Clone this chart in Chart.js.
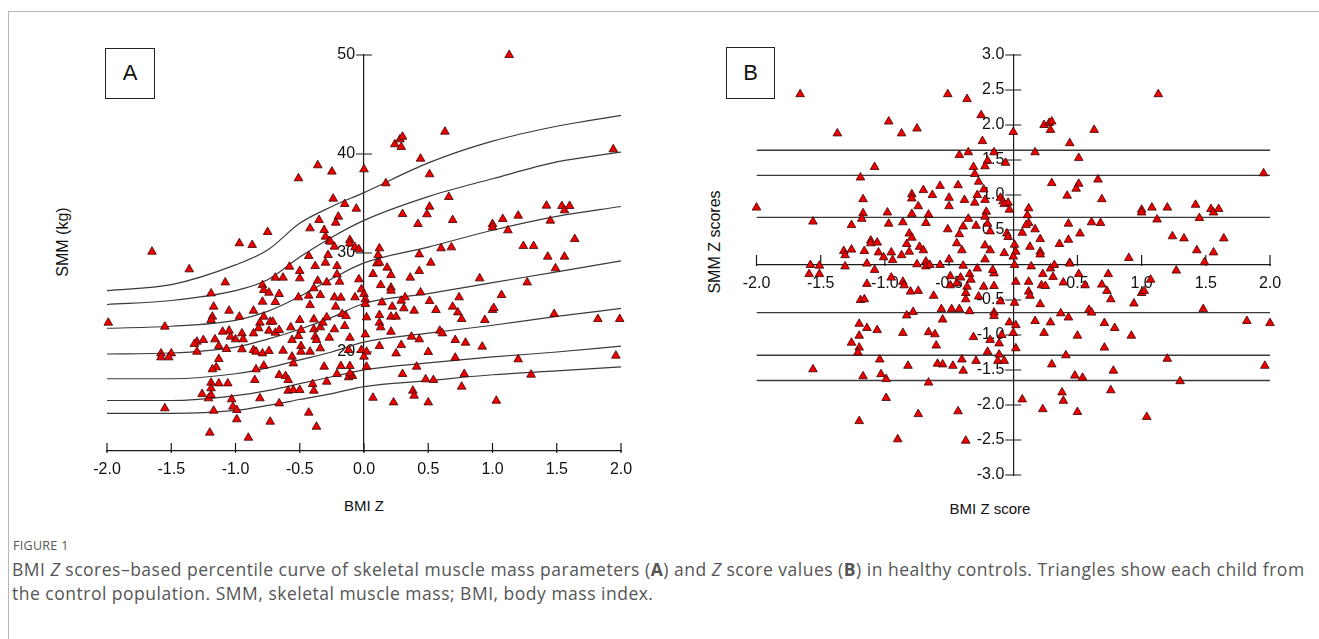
<!DOCTYPE html>
<html>
<head>
<meta charset="utf-8">
<script src="https://cdn.jsdelivr.net/npm/chart.js@4.4.1/dist/chart.umd.min.js"></script>
<style>
  html, body { margin: 0; padding: 0; background: #fff; }
  body { width: 1319px; height: 639px; position: relative; overflow: hidden; font-family: "Liberation Sans", Arial, sans-serif; }
  .frame { position: absolute; left: 8px; top: 11px; width: 1400px; height: 700px;
           border-top: 1.5px solid #b8b8b8; border-left: 1.5px solid #b8b8b8; }
  canvas { position: absolute; left: 0; top: 0; z-index: 2; }
  .panel { position: absolute; border: 1.5px solid #222; box-sizing: border-box;
           font-size: 22px; color: #111; text-align: center; }
  .axt { position: absolute; font-size: 15px; color: #111; white-space: nowrap; }
  .rot { transform: translate(-50%, -50%) rotate(-90deg); font-size: 16px; }
  .hor { transform: translate(-50%, -50%); }
  .fig { position: absolute; left: 13px; top: 537px; font-family: "Open Sans", sans-serif;
         font-size: 12.5px; color: #555; letter-spacing: 0.3px; }
  .cap { position: absolute; left: 12px; top: 557px; font-family: "Open Sans", sans-serif;
         font-size: 17.5px; letter-spacing: 0.5px; line-height: 24px; color: #555; white-space: nowrap; }
</style>
</head>
<body>
<div class="frame"></div>
<div class="panel" style="left:105px;top:48px;width:50px;height:51px;line-height:48px;">A</div>
<div class="panel" style="left:726px;top:47px;width:49px;height:52px;line-height:49px;">B</div>
<div class="axt rot" style="left:63px;top:242px;">SMM (kg)</div>
<div class="axt hor" style="left:364px;top:505px;">BMI Z</div>
<div class="axt rot" style="left:715px;top:242px;">SMM Z scores</div>
<div class="axt hor" style="left:990px;top:508px;">BMI Z score</div>
<div class="fig">FIGURE 1</div>
<div class="cap">BMI <i>Z</i> scores–based percentile curve of skeletal muscle mass parameters (<b>A</b>) and <i>Z</i> score values (<b>B</b>) in healthy controls. Triangles show each child from<br>the control population. SMM, skeletal muscle mass; BMI, body mass index.</div>
<canvas id="chartA" width="1319" height="639"></canvas>
<canvas id="chartB" width="1319" height="639"></canvas>
<script>
'use strict';

/* ── Panel A data: BMI Z vs SMM (kg) ───────────────────────── */
const aXTicks = [-2, -1.5, -1, -0.5, 0, 0.5, 1, 1.5, 2];
const aYTicks = [20, 30, 40, 50];

// percentile curves, read at these BMI Z positions
const curveZ = [-2, -1.5, -1, -0.75, -0.5, -0.25, 0, 0.5, 1, 1.5, 2];
const p97 = [26.2, 26.8, 28.8, 30.3, 33.0, 34.7, 36.1, 39.1, 41.3, 42.8, 43.9];
const p90 = [24.8, 25.2, 26.2, 27.3, 29.6, 31.6, 33.3, 35.7, 37.5, 39.2, 40.2];
const p75 = [22.4, 22.6, 23.2, 24.1, 25.6, 27.4, 29.0, 30.6, 32.3, 33.7, 34.7];
const p50 = [19.8, 19.9, 20.5, 21.3, 22.3, 23.5, 24.9, 25.9, 27.0, 28.1, 29.2];
const p25 = [17.3, 17.3, 17.8, 18.4, 19.2, 20.0, 21.0, 21.9, 22.7, 23.6, 24.4];
const p10 = [15.1, 15.1, 15.6, 16.1, 16.8, 17.5, 18.2, 18.9, 19.5, 20.0, 20.6];
const p3  = [13.8, 13.8, 14.1, 14.6, 15.2, 15.8, 16.5, 17.1, 17.7, 18.1, 18.5];

// each child: [BMI Z, SMM kg]
const aPoints = [
  [-0.51,37.54],[-0.36,38.86],[-0.25,38.22],[0.00,38.45],[-0.24,35.49],[-0.15,34.95],[-0.06,34.48],
  [-0.20,33.67],[-0.22,33.06],[-0.35,33.33],[-0.42,32.49],[-0.31,32.32],[-0.30,31.65],[-0.27,31.21],
  [-0.11,31.31],[-0.75,32.12],[-0.97,30.98],[-0.87,30.81],
  [1.13,50.0],[0.24,40.98],[0.28,41.48],[0.30,41.75],[0.29,40.71],[0.63,42.26],[0.44,39.53],[0.51,37.95],
  [0.17,37.04],[0.66,35.66],[0.51,34.68],[0.49,33.91],[0.30,33.94],[0.42,32.93],[0.69,33.33],[1.00,32.93],
  [1.00,32.59],[1.08,33.43],[1.20,33.77],[1.12,32.29],[1.42,34.78],[1.54,34.75],[1.56,34.31],[1.60,34.75],
  [1.45,33.27],[1.64,31.41],[1.94,40.47],
  [0.12,30.47],[0.60,30.47],[0.68,30.57],[1.24,30.70],[1.32,30.70],[1.43,29.63],[1.56,29.63],[1.49,28.45],
  [1.27,27.03],[0.90,27.44],[1.07,25.75],[1.48,23.84],[1.82,23.33],[1.99,23.33],[1.96,19.63],[1.20,19.26],
  [1.30,17.71],[1.03,15.08],[0.11,29.79],[0.10,28.95],[0.12,29.02],[0.18,28.52],[0.07,27.88],[0.21,27.77],
  [0.43,29.86],[0.52,29.02],[0.43,28.18],[0.36,27.51],[0.13,26.76],[0.21,26.50],[0.21,26.19],[0.44,26.02],
  [-0.02,26.33],[0.00,25.86],[0.01,25.32],[0.01,24.85],[0.14,25.01],[0.22,24.58],[0.32,25.52],[0.29,25.18],
  [0.31,24.41],[0.39,24.17],[0.51,25.15],[0.56,24.24],[0.69,24.58],[0.74,25.52],[0.73,24.00],[0.76,23.33],
  [1.00,24.24],[1.01,24.44],[0.94,23.23],[0.02,23.50],[0.12,23.73],[0.21,23.57],[0.25,23.57],[0.12,22.96],
  [0.13,22.49],[0.01,21.78],[0.21,22.05],[0.37,21.55],[0.43,21.28],[0.59,22.15],[0.61,21.88],[0.71,21.21],
  [0.79,20.94],[0.92,20.54],[0.12,20.60],[0.29,20.70],[0.25,19.86],[0.50,20.00],[0.71,19.43],[-0.02,20.20],
  [0.02,20.03],[0.00,19.53],[0.02,18.52],[0.41,18.52],[0.30,17.78],[0.48,17.24],[0.54,17.17],[0.78,17.78],
  [0.76,16.50],[0.38,16.09],[0.39,15.59],[0.07,15.38],[0.23,14.91],[0.50,14.91],
  [-1.65,30.13],[-1.36,28.35],[-1.08,27.03],[-1.19,25.92],[-1.17,24.58],[-1.18,23.57],[-1.19,23.23],
  [-1.99,22.96],[-1.55,22.56],[-1.05,24.17],[-0.97,23.57],[-0.86,24.17],[-0.79,26.76],[-0.78,26.26],
  [-0.74,25.99],[-0.79,25.08],[-0.69,25.05],[-0.66,25.86],[-0.69,27.51],[-0.63,27.51],[-0.58,28.62],
  [-0.50,28.18],[-0.50,27.44],[-0.43,29.69],[-0.38,28.68],[-0.30,29.02],[-0.28,29.79],[-0.26,31.14],
  [-0.23,30.64],[-0.11,30.97],[-0.07,30.57],[-0.04,30.37],[-0.21,28.68],[-0.21,27.84],[-0.19,27.10],
  [-0.36,27.20],[-0.29,27.03],[-0.39,26.43],[-0.43,25.69],[-0.51,25.52],[-0.42,24.74],[-0.34,25.75],
  [-0.23,25.52],[-0.18,25.49],[-0.07,25.52],[-0.04,27.34],[-0.22,24.58],[-0.17,23.84],[-0.14,23.63],
  [-0.29,23.50],[-0.39,23.30],[-0.50,23.23],[-0.57,22.49],[-0.73,23.06],[-0.71,23.06],[-0.78,23.57],
  [-0.81,22.96],[-0.82,22.39],[-0.74,22.15],[-0.69,21.95],[-0.66,22.22],[-0.86,21.88],[-0.95,21.88],
  [-0.94,21.28],[-1.00,21.28],[-1.04,21.55],[-1.05,22.15],[-1.10,22.05],[-1.16,21.28],[-1.13,20.60],
  [-1.07,20.30],[-0.95,20.27],[-0.86,20.20],[-0.84,20.03],[-0.79,19.86],[-0.74,20.10],[-0.63,20.13],
  [-0.56,21.21],[-0.51,21.61],[-0.49,20.60],[-0.49,20.03],[-0.42,20.03],[-0.49,22.22],[-0.39,22.29],
  [-0.38,21.55],[-0.37,21.21],[-0.34,20.37],[-0.34,22.49],[-0.32,22.96],[-0.27,21.44],[-0.23,22.29],
  [-0.15,22.62],[-0.11,21.44],[-0.12,20.20],[-0.18,18.58],[-0.11,18.58],[-0.31,18.52],[-0.56,19.53],
  [-0.55,18.85],[-0.78,18.62],[-0.84,18.25],[-1.13,19.29],[-1.15,18.45],[-1.18,18.25],[-1.30,21.04],
  [-1.32,20.81],[-1.25,21.21],[-1.30,20.03],[-1.58,19.86],[-1.50,19.86],[-1.58,19.46],[-1.52,19.46],
  [-1.55,14.31],[-1.19,16.90],[-1.19,16.33],[-1.13,16.83],[-1.06,16.83],[-1.26,15.75],[-1.21,15.32],
  [-1.19,15.65],[-1.17,14.07],[-1.03,15.22],[-1.02,14.48],[-0.99,14.14],[-0.99,13.20],[-1.20,11.85],
  [-0.90,11.34],[-0.85,17.17],[-0.81,15.32],[-0.66,17.67],[-0.61,17.57],[-0.59,17.17],[-0.59,16.09],
  [-0.55,16.16],[-0.50,16.16],[-0.40,16.76],[-0.39,16.09],[-0.66,14.81],[-0.73,12.96],[-0.43,13.87],
  [-0.37,12.45],[-0.29,17.00],[-0.21,17.78],[-0.12,17.44],[-0.09,17.57],[-0.11,17.84]
];

/* ── Panel B data: BMI Z vs SMM Z ──────────────────────────── */
const bXTicks = [-2, -1.5, -1, -0.5, 0.5, 1, 1.5, 2];
const bYTicks = [3, 2.5, 2, 1.5, 1, 0.5, -0.5, -1, -1.5, -2, -2.5, -3];
const refZ = [1.64, 1.28, 0.68, -0.68, -1.29, -1.65];
const refSpan = [-2, 2];

const bPoints = [
  [-1.66,2.44],[-1.37,1.88],[-0.97,2.05],[-0.87,1.88],[-0.75,1.95],[-0.51,2.44],[-0.36,2.37],[-0.25,2.14],
  [-0.24,1.77],[0.00,1.90],[-0.42,1.57],[-0.35,1.61],[-0.15,1.61],[-0.06,1.46],[-0.20,1.49],[-0.22,1.41],
  [-0.31,1.40],[-0.30,1.30],[-0.27,1.19],[-0.23,1.08],[-1.08,1.40],[-1.19,1.25],[-2.00,0.82],[-1.56,0.62],
  [-1.17,0.94],[-1.17,0.74],[-1.18,0.66],[-1.26,0.57],[-0.98,0.75],[-0.97,0.59],[-0.86,0.61],[-0.79,1.01],
  [-0.79,0.95],[-0.74,0.84],[-0.70,1.07],[-0.63,1.00],[-0.57,1.13],[-0.79,0.73],[-0.66,0.72],[-0.68,0.60],
  [-0.50,0.96],[-0.50,0.84],[-0.43,1.14],[-0.38,0.93],[-0.30,0.89],[-0.28,1.00],[-0.22,0.93],[-0.10,0.96],
  [-0.08,0.91],[-0.07,0.87],[-0.04,0.89],[-0.03,0.79],[-0.21,0.76],[-0.22,0.69],[-0.35,0.66],[-0.39,0.55],
  [-0.29,0.56],[-0.20,0.59],[-0.18,0.48],[-0.51,0.51],[-0.42,0.44],[-0.44,0.31],[-0.40,0.21],[-0.22,0.28],
  [-0.18,0.21],[-0.07,0.17],[-0.05,0.45],[-0.04,0.40],[0.01,0.29],[0.02,0.19],[-0.81,0.45],[-0.79,0.39],
  [-0.83,0.30],[-0.73,0.26],[-0.70,0.21],[-1.11,0.35],[-1.11,0.31],[-1.06,0.32],[-1.05,0.18],[-0.95,0.18],
  [-1.16,0.20],[-1.26,0.22],[-1.32,0.20],[-1.31,0.14],[-0.87,0.14],[-0.81,0.19],[-1.01,0.11],[-0.94,0.07],
  [-1.14,0.02],[-0.50,0.08],[-0.57,0.00],[-0.68,0.05],[-1.58,0.00],[-1.51,-0.01],[-0.22,0.08],[0.00,0.12],
  [1.13,2.44],[0.24,2.00],[0.28,2.03],[0.30,2.05],[0.29,1.93],[0.63,1.93],[0.44,1.74],[0.17,1.61],
  [0.51,1.53],[1.95,1.31],[0.66,1.22],[0.30,1.17],[0.51,1.16],[0.49,1.09],[0.42,0.99],[0.69,0.94],
  [0.12,0.81],[0.11,0.71],[0.12,0.60],[0.10,0.57],[1.00,0.79],[1.00,0.75],[1.08,0.82],[1.20,0.82],
  [1.12,0.65],[1.42,0.86],[1.45,0.67],[1.54,0.80],[1.56,0.75],[1.60,0.80],[0.43,0.59],[0.61,0.61],
  [0.68,0.60],[0.17,0.51],[0.07,0.46],[0.21,0.37],[0.52,0.45],[0.43,0.36],[0.36,0.30],[0.13,0.26],
  [0.21,0.19],[0.21,0.15],[1.24,0.41],[1.33,0.38],[1.64,0.38],[1.43,0.21],[1.56,0.18],[0.90,0.10],
  [1.49,0.04],[0.44,0.03],
  [-1.59,-0.13],[-1.51,-0.13],[-1.31,-0.02],[-1.08,-0.07],[-1.14,-0.27],[-0.95,-0.18],[-0.86,-0.24],
  [-0.85,-0.29],[-0.80,-0.38],[-0.74,-0.37],[-0.75,0.01],[-0.68,-0.02],[-0.65,0.00],[-0.62,-0.44],
  [-0.49,-0.16],[-0.49,-0.29],[-0.44,-0.26],[-0.39,-0.01],[-0.41,-0.18],[-0.34,-0.13],[-0.33,-0.21],
  [-0.36,-0.31],[-0.37,-0.40],[-0.37,-0.49],[-0.28,-0.05],[-0.23,-0.31],[-0.27,-0.45],[-0.15,-0.12],
  [-0.15,-0.30],[-0.16,-0.07],[-0.10,-0.52],[0.02,-0.24],[0.01,0.00],[0.01,-0.54],[0.12,-0.24],
  [0.12,-0.38],[0.14,-0.02],[0.13,-0.44],[0.23,-0.13],[0.22,-0.29],[0.25,-0.30],[0.21,-0.56],[0.29,-0.05],
  [0.32,0.00],[0.31,-0.17],[0.39,-0.25],[0.44,0.02],[0.51,-0.13],[0.56,-0.29],[0.69,-0.28],[0.74,-0.13],
  [0.73,-0.37],[0.76,-0.49],[1.00,-0.40],[1.02,-0.37],[1.07,-0.21],[0.94,-0.55],[1.27,-0.08],[1.48,-0.63],
  [0.59,-0.64],[0.61,-0.68],[0.37,-0.69],[0.43,-0.75],[0.29,-0.82],[0.17,-0.80],[-0.03,-0.82],[0.02,-0.86],
  [-0.15,-0.68],[-0.15,-0.73],[-0.34,-0.66],[-0.42,-0.63],[-0.48,-0.63],[-0.56,-0.63],[-0.55,-0.78],
  [-0.78,-0.67],[-0.83,-0.72],[-1.19,-0.50],[-1.16,-0.49],[-1.20,-0.84],[-1.14,-0.90],[-1.06,-0.93],
  [-1.20,-1.01],[-1.26,-1.11],[-1.20,-1.18],[-1.21,-1.25],[-0.86,-0.97],[-0.66,-0.96],[-0.61,-0.99],
  [-0.60,-1.15],[-0.31,-1.03],[-0.18,-1.07],[-0.09,-1.00],[0.00,-0.97],[-0.11,-1.12],[-0.20,-1.24],
  [-0.11,-1.28],[-0.12,-1.37],[-0.07,-1.37],[0.02,-1.19],[0.24,-0.97],[0.50,-1.01],[0.71,-1.18],
  [0.79,-0.90],[0.71,-0.83],[0.92,-1.01],[1.82,-0.80],[2.00,-0.83],[0.41,-1.29],[0.30,-1.42],[0.48,-1.58],
  [0.54,-1.61],[0.78,-1.51],[0.76,-1.79],[1.20,-1.34],[1.30,-1.66],[1.96,-1.44],[0.38,-1.82],[0.39,-1.94],
  [0.50,-2.10],[0.23,-2.06],[0.07,-1.92],[1.04,-2.17],[-0.29,-1.37],[-0.40,-1.35],[-0.39,-1.51],
  [-0.47,-1.44],[-0.55,-1.42],[-0.59,-1.41],[-0.66,-1.68],[-0.43,-2.09],[-0.74,-2.13],[-0.90,-2.49],
  [-0.37,-2.51],[-0.99,-1.90],[-0.99,-1.63],[-1.03,-1.56],[-1.04,-1.35],[-0.82,-1.44],[-1.17,-1.59],
  [-1.20,-2.23],[-1.56,-1.49]
];

/* ── Shared styling ────────────────────────────────────────── */
const AXIS_COLOR = '#1a1a1a';
const TICK_FONT = { family: '"Liberation Sans", Arial, sans-serif', size: 16 };
const GAP = '  ';   // keeps y labels clear of an axis that sits inside the plot

const triangleStyle = {
  pointStyle: 'triangle',
  pointRadius: 5,
  pointBackgroundColor: '#ee0000',
  pointBorderColor: '#3a0000',
  pointBorderWidth: 0.8,
  showLine: false,
  clip: false,
};

function toXY(pairs) {
  return pairs.map(([x, y]) => ({ x, y }));
}

function fixedTicks(values) {
  return scale => { scale.ticks = values.map(v => ({ value: v })); };
}

// small crossing tick marks on axes drawn at a data position
const tickMarks = {
  id: 'tickMarks',
  beforeDatasetsDraw(chart, args, opts) {
    const { ctx } = chart;
    ctx.save();
    ctx.strokeStyle = AXIS_COLOR;
    ctx.lineWidth = 1.2;
    for (const id of ['x', 'y']) {
      const len = opts[id];
      if (!len) continue;
      const s = chart.scales[id];
      const pos = s.options.position;
      const key = Object.keys(pos)[0];
      const base = chart.scales[key].getPixelForValue(pos[key]);
      ctx.beginPath();
      for (const t of s.ticks) {
        const p = s.getPixelForValue(t.value);
        if (id === 'x') { ctx.moveTo(p, base - len[0]); ctx.lineTo(p, base + len[1]); }
        else            { ctx.moveTo(base - len[0], p); ctx.lineTo(base + len[1], p); }
      }
      ctx.stroke();
    }
    ctx.restore();
  }
};

function axisOpts(extra) {
  return Object.assign({
    type: 'linear',
    grid: { display: true, drawOnChartArea: false, drawTicks: false },
    border: { display: true, color: AXIS_COLOR, width: 1.2 },
  }, extra);
}

/* ── Chart A ───────────────────────────────────────────────── */
const curveSets = [p97, p90, p75, p50, p25, p10, p3].map(vals => ({
  data: curveZ.map((z, i) => ({ x: z, y: vals[i] })),
  showLine: true,
  borderColor: '#3a3a3a',
  borderWidth: 1.2,
  pointRadius: 0,
  cubicInterpolationMode: 'monotone',
  fill: false,
}));

new Chart(document.getElementById('chartA'), {
  type: 'scatter',
  data: {
    datasets: [Object.assign({ data: toXY(aPoints) }, triangleStyle), ...curveSets],
  },
  options: {
    responsive: false,
    animation: false,
    events: [],
    layout: { padding: { left: 107, right: 698, top: 55, bottom: 188 } },
    plugins: {
      legend: { display: false },
      tooltip: { enabled: false },
      tickMarks: { x: [8, 2], y: [8, 8] },
    },
    scales: {
      x: axisOpts({
        min: -2, max: 2,
        position: { y: 10 },
        afterBuildTicks: fixedTicks(aXTicks),
        ticks: { autoSkip: false, maxRotation: 0, padding: 9, color: '#111', font: TICK_FONT,
                 callback: v => v.toFixed(1) },
      }),
      y: axisOpts({
        min: 10, max: 50,
        position: { x: 0 },
        afterBuildTicks: fixedTicks(aYTicks),
        ticks: { autoSkip: false, color: '#111', font: TICK_FONT,
                 callback: v => String(v) + GAP },
      }),
    },
  },
  plugins: [tickMarks],
});

/* ── Chart B ───────────────────────────────────────────────── */
const refSets = refZ.map(z => ({
  data: refSpan.map(x => ({ x, y: z })),
  showLine: true,
  borderColor: '#3a3a3a',
  borderWidth: 1.4,
  pointRadius: 0,
  fill: false,
}));

new Chart(document.getElementById('chartB'), {
  type: 'scatter',
  data: {
    datasets: [Object.assign({ data: toXY(bPoints) }, triangleStyle), ...refSets],
  },
  options: {
    responsive: false,
    animation: false,
    events: [],
    layout: { padding: { left: 756.5, right: 49, top: 55, bottom: 164 } },
    plugins: {
      legend: { display: false },
      tooltip: { enabled: false },
      tickMarks: { x: [10, 1], y: [8, 8] },
    },
    scales: {
      x: axisOpts({
        min: -2, max: 2,
        position: { y: 0 },
        afterBuildTicks: fixedTicks(bXTicks),
        ticks: { autoSkip: false, maxRotation: 0, padding: 9, color: '#111', font: TICK_FONT,
                 callback: v => v.toFixed(1) },
      }),
      y: axisOpts({
        min: -3, max: 3,
        position: { x: 0 },
        afterBuildTicks: fixedTicks(bYTicks),
        ticks: { autoSkip: false, color: '#111', font: TICK_FONT,
                 callback: v => v.toFixed(1) + GAP },
      }),
    },
  },
  plugins: [tickMarks],
});
</script>
</body>
</html>
